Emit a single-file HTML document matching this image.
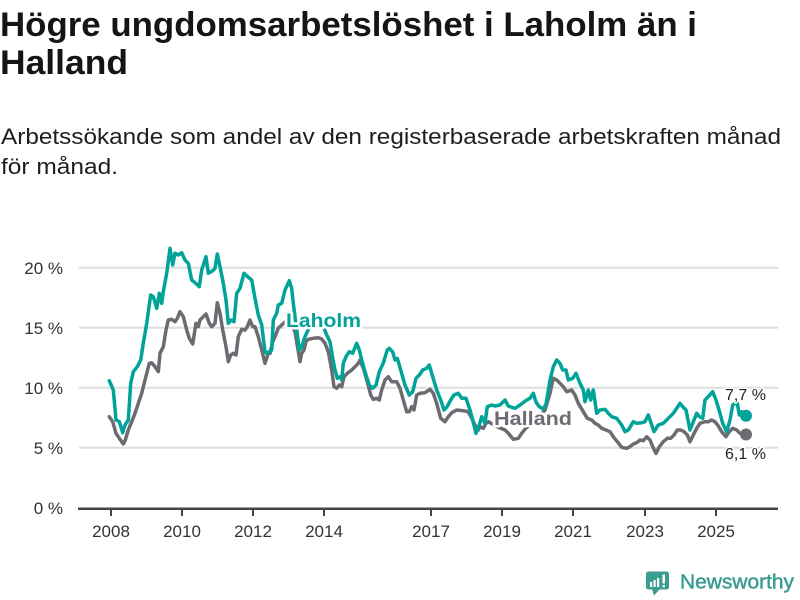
<!DOCTYPE html>
<html>
<head>
<meta charset="utf-8">
<style>
html,body{margin:0;padding:0;background:#fff;}
svg{display:block;}
text{font-family:"Liberation Sans",sans-serif;}
</style>
</head>
<body>
<svg width="800" height="600" viewBox="0 0 800 600" xmlns="http://www.w3.org/2000/svg">
<rect width="800" height="600" fill="#fff"/>
<!-- Title -->
<text x="0" y="36" font-size="34" font-weight="bold" fill="#151512" textLength="697" lengthAdjust="spacingAndGlyphs">Högre ungdomsarbetslöshet i Laholm än i</text>
<text x="0" y="74" font-size="34" font-weight="bold" fill="#151512" textLength="128" lengthAdjust="spacingAndGlyphs">Halland</text>
<!-- Subtitle -->
<text x="1" y="144" font-size="22" fill="#1e1e1e" textLength="780" lengthAdjust="spacingAndGlyphs">Arbetssökande som andel av den registerbaserade arbetskraften månad</text>
<text x="1" y="174" font-size="22" fill="#1e1e1e" textLength="117" lengthAdjust="spacingAndGlyphs">för månad.</text>

<!-- Gridlines -->
<g stroke="#dedede" stroke-width="2">
<line x1="79" y1="267.7" x2="778" y2="267.7"/>
<line x1="79" y1="327.7" x2="778" y2="327.7"/>
<line x1="79" y1="387.7" x2="778" y2="387.7"/>
<line x1="79" y1="447.7" x2="778" y2="447.7"/>
</g>
<!-- Y labels -->
<g font-size="17" fill="#333" text-anchor="end">
<text x="63" y="274">20 %</text>
<text x="63" y="334">15 %</text>
<text x="63" y="394">10 %</text>
<text x="63" y="454">5 %</text>
<text x="63" y="514">0 %</text>
</g>
<!-- Axis -->
<line x1="78" y1="508.7" x2="778" y2="508.7" stroke="#444" stroke-width="2.5"/>
<g stroke="#444" stroke-width="2">
<line x1="111" y1="508" x2="111" y2="516"/>
<line x1="182" y1="508" x2="182" y2="516"/>
<line x1="253" y1="508" x2="253" y2="516"/>
<line x1="324" y1="508" x2="324" y2="516"/>
<line x1="431" y1="508" x2="431" y2="516"/>
<line x1="502" y1="508" x2="502" y2="516"/>
<line x1="573" y1="508" x2="573" y2="516"/>
<line x1="645" y1="508" x2="645" y2="516"/>
<line x1="716" y1="508" x2="716" y2="516"/>
</g>
<g font-size="17" fill="#333" text-anchor="middle">
<text x="111" y="537">2008</text>
<text x="182" y="537">2010</text>
<text x="253" y="537">2012</text>
<text x="324" y="537">2014</text>
<text x="431" y="537">2017</text>
<text x="502" y="537">2019</text>
<text x="573" y="537">2021</text>
<text x="645" y="537">2023</text>
<text x="716" y="537">2025</text>
</g>

<!-- Halland (gray) -->
<polyline fill="none" stroke="#6d6b71" stroke-width="3.5" stroke-linejoin="round" stroke-linecap="round" points="109.3,416.7 112.7,421.7 116,433.3 120,439.3 123.3,444 125.3,440 128.3,430 131.7,421.7 135,413.3 138.3,403.3 141.7,393.3 145,380 149.3,363.3 151.7,362.7 155,366.7 158.3,371.7 160,353.3 163.3,346.7 166,330 168.3,320 171.7,319.3 175,321.7 177.3,318.3 180,311.7 183.3,316.7 186.7,330 189.3,338.3 192.7,344 196,323.3 198.3,326.7 200,320 203.3,316.7 206,314 209.3,323.3 211.7,326.7 215,323.3 217.3,302.7 220,313.3 222.7,330 226,346.7 228.3,361.7 230.7,355 233.3,353.3 236,355 238.3,336.7 241.7,329.3 245,330 247.3,326.7 250,320 252.7,326.7 255,326.7 258.3,336.7 261.7,350 265,363.3 268.3,353.3 270,353.3 272.7,341.7 275,336.7 278.3,328.3 281.7,325 285,322 290,322 295,331.7 300,361.7 301.7,353.3 304,350 306,341.7 308.3,339.3 313.3,338.3 318.3,337.7 321.7,339 325,343.3 328.3,351.7 331.7,370 334,386.7 336.7,388.3 339.3,385 341.7,386.7 344,376.7 347.3,373.3 351.7,370 355,366.7 358.3,363.3 360,360 363.3,368.3 367.3,381.7 370.7,395 373.3,399.3 376.7,398.3 379.3,400 381.7,390 385,380 388.3,376.7 391.7,381.7 396.7,381.7 400,388.3 403.3,400 406.7,411.7 409.3,411.7 411.7,406.7 414,410 416.7,395 420,393.3 425,392.7 430,389.3 433.3,393.3 436.7,403.3 440.7,418.3 445,421.7 448.3,416.7 451.7,412.7 456.7,410 463.3,410.7 468.3,411.7 471.7,418.3 475,425 478.3,430 480,426.7 483.3,428.3 486,423.3 488.3,421.7 494,425 500,428 505,430 508.3,433.3 513.3,439.3 518.3,438.3 521.7,433.3 526,428 532,424 538,418 545,410 550,393.3 553.3,378.3 556.7,380 560,383.3 563.3,386.7 566.7,391.7 571.7,390 575,395 578.3,403.3 583.3,411.7 587.3,418.3 591.7,420 595,423.3 598.3,425 601.7,428.3 606,430 610,431.7 613.3,436.7 617.3,441.7 621.7,447.3 626.7,448.3 630,446.7 633.3,444 636.7,442.7 640,440 643.3,440.7 646.7,436.7 650,440 652.7,446.7 656,453.3 659.3,446.7 663.3,441.7 667.3,438.3 670.7,438.3 674,435 677.3,430 680.7,430 684,431.7 687.3,435 690,441.7 693.3,435 696.7,428.3 700,423.3 705,421.7 708.3,421.7 711.7,420 715,421.7 718.3,426 721.7,431.7 726,436.7 729.3,431.7 732.7,428.3 736.7,430 740,433.3 745.7,434.3"/>

<!-- Laholm (teal) -->
<polyline fill="none" stroke="#00a398" stroke-width="3.5" stroke-linejoin="round" stroke-linecap="round" points="109.3,380.7 113.3,390 116,420 119.3,421.7 122.7,432.7 125,425 128.3,420 130.7,383.3 133.3,371.7 137.3,366.7 140.7,360 143.3,343.3 146.7,323.3 150.7,295 153.3,296.7 156.7,308.3 159.3,293.3 161.7,303.3 163.3,291.7 166.7,273.3 170,248.3 172.7,265 175,253.3 178.3,255 181.7,252.7 185,260 188.3,263.3 191.7,280 195,282.7 199.3,286.7 201.7,270 206,256.7 208.3,273.3 212.7,270.7 215,268.3 217.3,254 220.7,270 223.3,283.3 226,300 228.3,323.3 230.7,320 234,321.7 236.7,293.3 240,288.3 244,273.3 248.3,277.3 251.7,280 255,298.3 258.3,315 261.7,325 265,351.7 266.7,353.3 271.7,350 273.3,320 276.7,313.3 278.3,305 281.7,303.3 285,290 289.3,280.7 291.7,288.3 293.3,303.3 296.7,330 299.3,350 301.7,346.7 305,336.7 309,328 314,325 320,325 324,328 326.7,335 330,341.7 332.7,358.3 335,370 337.3,378.3 340,376.7 341.7,380 343.3,363.3 346,356.7 349.3,351.7 352.7,353.3 356.7,343.3 359.3,350 361.7,360 366,375 369.3,385 372.7,388.3 376,385 379.3,371.7 383.3,363 387.3,350 389.3,348.3 392.7,352 395,360 397.3,358.3 400.7,370 405,385 409.3,395 412.7,391.7 416,378.3 419.3,375 422.7,370 426.7,368.3 429.3,365 432.7,376.7 436.7,390 440.7,400 444,410 446.7,407.3 450.7,400 454,395 458.3,393.3 461.7,398.3 466,398.3 470,410 472.7,420 476,433.3 479.3,425 481.7,416.7 485,423.3 487.3,406.7 491.7,405 495,406 500,405 505,400 508.3,406 511.7,407.3 515,408.3 520,405 526.7,400 530,398.3 533.3,393.3 536,402 539.3,406.7 543.3,409 546,404 550,380 553.3,366.7 556.7,360 560,363.3 562.7,370 566,370 568.3,380 572.7,378.3 576,373.3 580,383.3 583.3,390 585,401.7 588.3,390 590.7,400 593.3,390 596.7,413.3 600,410 605,409.3 608.3,413.3 611.7,416.7 616.7,418.3 621.7,425 625,431.7 628.3,430 633.3,421.7 636.7,423.3 641.7,422.7 645,421.7 648.3,415 651.7,425 654,431.7 658.3,425 663.3,423.3 668.3,418.3 673.3,413.3 676.7,408.3 680,403.3 682.7,406.7 686,410 690,430 693.3,421.7 696.7,413.3 699.3,416.7 702.7,418.3 705,400 708.3,396.7 712.7,391.7 716,400 720,413.3 722.7,423.3 726.7,431.7 730,420 732.7,405 735,403.3 737.3,403.3 739.3,415 741.7,411.7 743.3,413.3 745.7,415.7"/>

<!-- End dots -->
<circle cx="746" cy="415.7" r="6" fill="#00a398"/>
<circle cx="746" cy="434.5" r="6" fill="#6d6b71"/>

<!-- Series labels with halo -->
<g font-size="19" font-weight="bold" stroke="#fff" stroke-width="5" stroke-linejoin="round" paint-order="stroke">
<text x="286" y="327" fill="#00a398" textLength="75" lengthAdjust="spacingAndGlyphs">Laholm</text>
<text x="494" y="425" fill="#6d6b71" textLength="78" lengthAdjust="spacingAndGlyphs">Halland</text>
</g>
<g font-size="16" fill="#222" stroke="#fff" stroke-width="3" stroke-linejoin="round" paint-order="stroke">
<text x="725" y="400">7,7 %</text>
<text x="725" y="459">6,1 %</text>
</g>

<!-- Logo -->
<g>
<rect x="646" y="571.5" width="23" height="18" rx="2.5" fill="#3b9c90"/>
<polygon points="652,589 660,589 654,595.5" fill="#3b9c90"/>
<rect x="650" y="582" width="2.2" height="5" fill="#fff"/>
<rect x="653.5" y="580" width="2.2" height="7" fill="#fff"/>
<rect x="657" y="578" width="2.2" height="9" fill="#fff"/>
<rect x="662.5" y="574.5" width="2.4" height="9" fill="#fff"/>
<rect x="662.5" y="585" width="2.4" height="2.2" fill="#fff"/>
<text x="680" y="588.5" font-size="20.5" fill="#3b9c90" stroke="#3b9c90" stroke-width="0.5" textLength="114" lengthAdjust="spacingAndGlyphs">Newsworthy</text>
</g>
</svg>
</body>
</html>
